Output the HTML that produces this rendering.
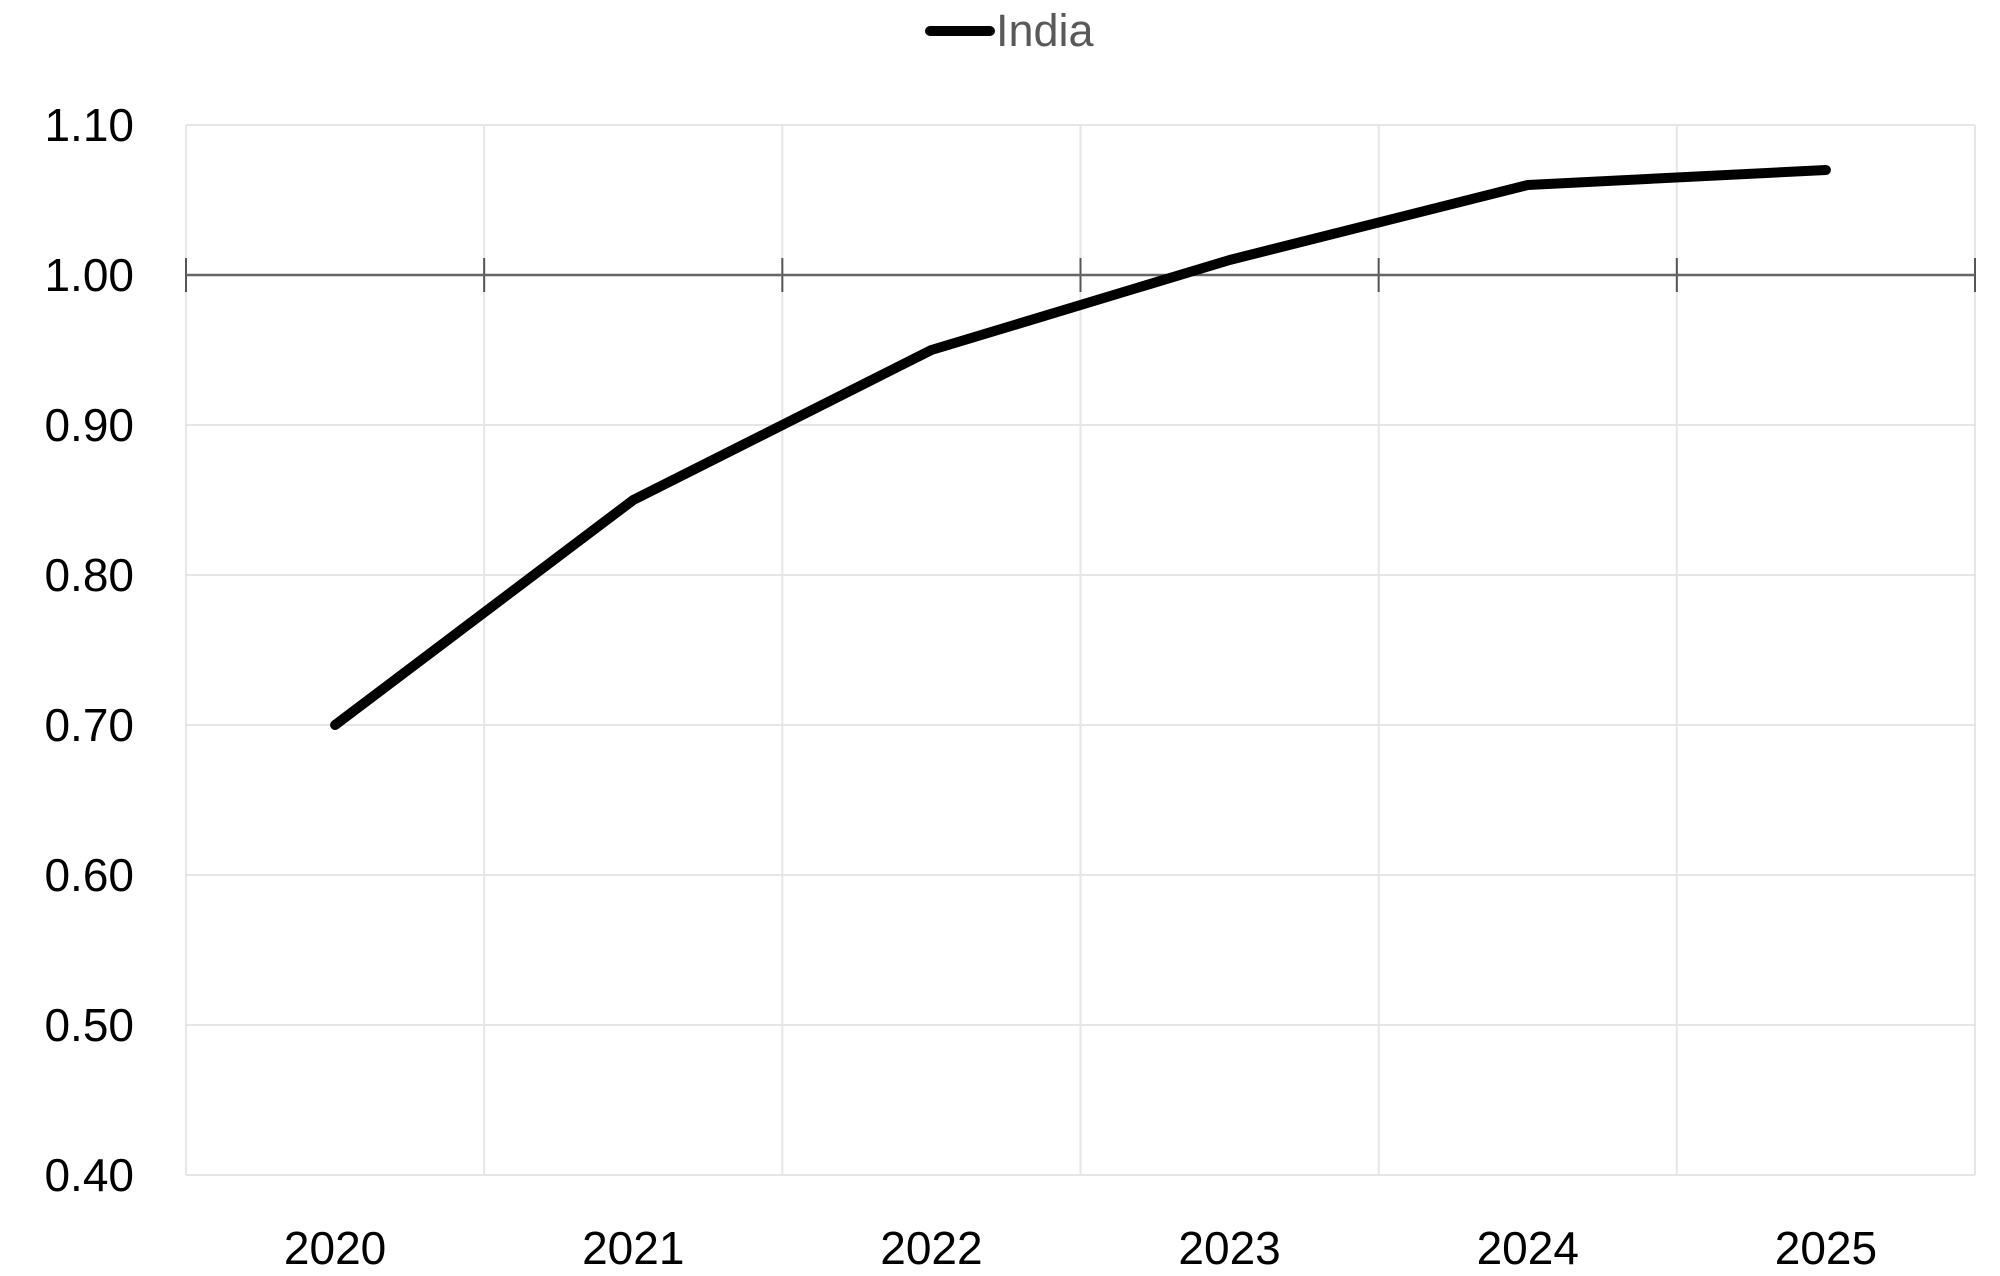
<!DOCTYPE html>
<html><head><meta charset="utf-8"><style>
html,body{margin:0;padding:0;background:#fff;}
svg{display:block;font-family:"Liberation Sans",sans-serif;}
</style></head><body>
<svg id="chart" width="2000" height="1276" viewBox="0 0 2000 1276">
<g id="legend">
<line x1="930" y1="31" x2="990" y2="31" stroke="#000" stroke-width="10" stroke-linecap="round"/>
<text x="996" y="46" font-size="45" fill="#595959">India</text>
</g>
<g id="grid"></g><g id="axes"></g><g id="series"></g>
</svg>
<script>
const categories = ["2020","2021","2022","2023","2024","2025"];
const indiaValues = [0.70,0.85,0.95,1.01,1.06,1.07];
const yTicks = [0.40,0.50,0.60,0.70,0.80,0.90,1.00,1.10];
const yTickLabels = ["0.40","0.50","0.60","0.70","0.80","0.90","1.00","1.10"];

const NS="http://www.w3.org/2000/svg";
const L=186,R=1975,T=125,B=1175,yMin=0.4,yMax=1.1;
const band=(R-L)/categories.length;
const xPos=i=>L+band*(i+0.5);
const yPos=v=>B-(v-yMin)/(yMax-yMin)*(B-T);
function mk(tag,attrs,parent){const e=document.createElementNS(NS,tag);for(const k in attrs)e.setAttribute(k,attrs[k]);parent.appendChild(e);return e;}
const grid=document.getElementById('grid'),axes=document.getElementById('axes'),series=document.getElementById('series');
yTicks.forEach((v,i)=>{
  const y=yPos(v);
  const g=mk('line',{x1:L,x2:R,y1:y,y2:y,stroke:'#e6e6e6','stroke-width':2},grid);
  
  
  const t=mk('text',{x:134,y:y+16,'font-size':46,'text-anchor':'end',fill:'#000'},axes);
  t.textContent=yTickLabels[i];
  
  
});
for(let i=0;i<=categories.length;i++){
  const x=L+band*i;
  const g=mk('line',{x1:x,x2:x,y1:T,y2:B,stroke:'#e6e6e6','stroke-width':2},grid);
  
  
  const tk=mk('line',{x1:x,x2:x,y1:yPos(1)-17,y2:yPos(1)+17,stroke:'#555','stroke-width':2},axes);
  
  
}
const ax=mk('line',{x1:L,x2:R,y1:yPos(1),y2:yPos(1),stroke:'#666','stroke-width':2.5},axes);


categories.forEach((c,i)=>{
  const t=mk('text',{x:xPos(i),y:1264,'font-size':46,'text-anchor':'middle',fill:'#000'},axes);
  t.textContent=c;
  
  
});
const pts=indiaValues.map((v,i)=>xPos(i)+','+yPos(v)).join(' ');
const pl=mk('polyline',{points:pts,fill:'none',stroke:'#000','stroke-width':10,'stroke-linecap':'round','stroke-linejoin':'round'},series);


</script>
</body></html>
